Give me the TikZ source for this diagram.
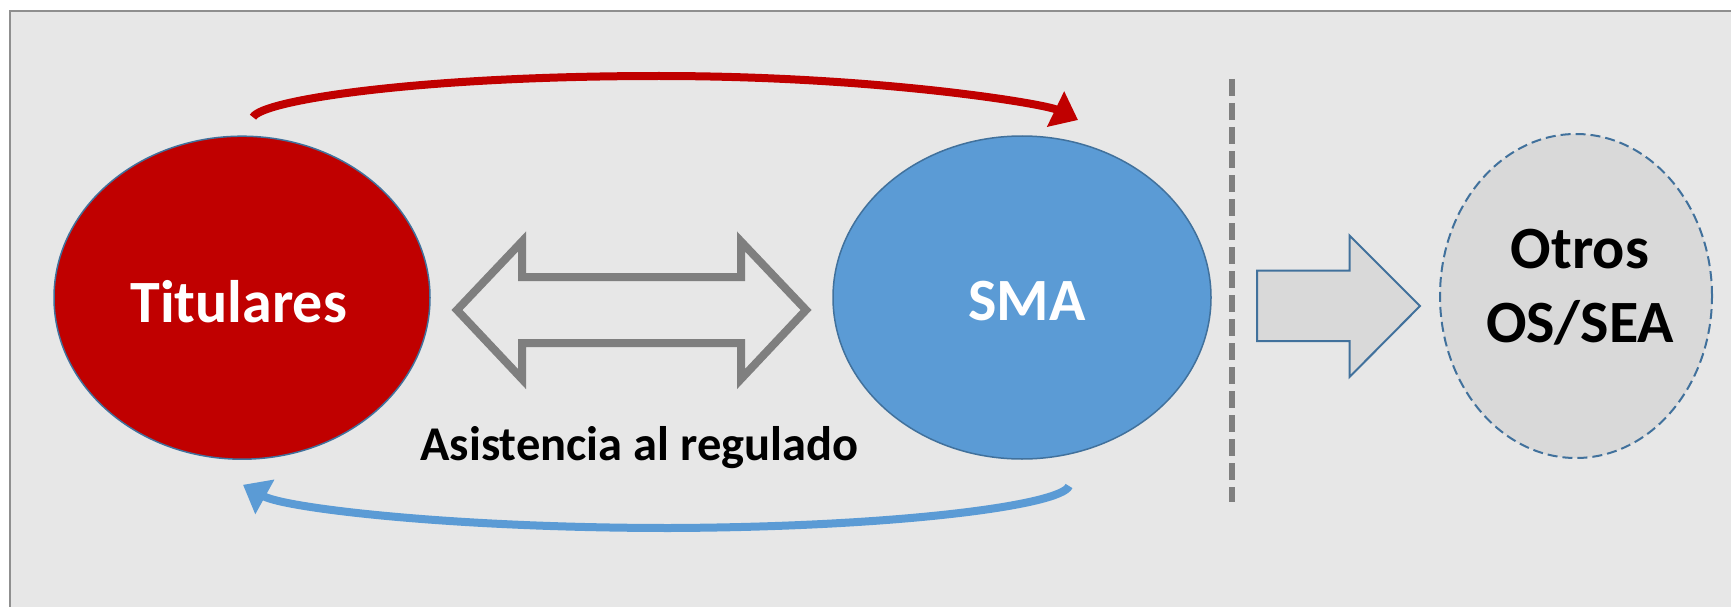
\documentclass[tikz,border=0pt]{standalone}
\usepackage{fontspec}
\setmainfont{Carlito}
\usetikzlibrary{arrows.meta,shapes.geometric,calc}
\definecolor{bgcol}{HTML}{E7E7E7}
\definecolor{framecol}{HTML}{8F8F8F}
\definecolor{titred}{HTML}{C00000}
\definecolor{smablue}{HTML}{5B9BD5}
\definecolor{edgeblue}{HTML}{41719C}
\definecolor{lightgrey}{HTML}{D9D9D9}
\definecolor{midgrey}{HTML}{7F7F7F}
\tikzset{
  ell/.style={ellipse, inner sep=0pt, outer sep=0pt},
  bigtxt/.style={font=\bfseries\fontsize{60}{73}\selectfont, inner sep=0pt, anchor=base},
  smalltxt/.style={font=\bfseries\fontsize{48.5}{58}\selectfont, inner sep=0pt, anchor=base},
  curvearrow/.style={line width=8pt, -{Triangle[length=25pt,width=38pt]}},
}
\begin{document}
\begin{tikzpicture}[x=1pt,y=-1pt]
\useasboundingbox (0,0) rectangle (1731,607);
\clip (0,0) rectangle (1731,607);
\fill[white] (0,0) rectangle (1731,607);
\draw[framecol, line width=1.6pt, fill=bgcol] (10,11) rectangle (1760,640);

% ellipses
\node[ell, draw=edgeblue, line width=1.5pt, fill=titred, minimum width=376pt, minimum height=323pt] (tit) at (242,297.7) {};
\node[ell, draw=edgeblue, line width=1.5pt, fill=smablue, minimum width=378pt, minimum height=323pt] (sma) at (1022,297.5) {};
\node[ell, draw=edgeblue, line width=2pt, fill=lightgrey, dash pattern=on 10pt off 5pt, minimum width=272pt, minimum height=324pt] (otros) at (1576,296) {};

% labels
\node[bigtxt, text=white] (titlbl) at (238.7,322.7) {Titulares};
\node[bigtxt, text=white] (smalbl) at (1027,320) {SMA};
\node[bigtxt] (otros1) at (1580,268.7) {Otros};
\node[bigtxt] (otros2) at (1580,342) {OS/SEA};
\node[smalltxt] (asist) at (639.5,460) {Asistencia al regulado};

% double arrow (outline)
\draw[midgrey, line width=8pt, miter limit=10]
  (457,310) -- (522,241.5) -- (522,277) -- (741,277) -- (741,241.5)
  -- (806,310) -- (741,379) -- (741,343) -- (522,343) -- (522,379) -- cycle;

% dashed separator
\coordinate (dtop) at (1232,79);
\coordinate (dbot) at (1232,502);
\draw[midgrey, line width=6pt, dash pattern=on 17pt off 7pt] (dtop) -- (dbot);

% right block arrow
\draw[edgeblue, line width=2pt, fill=lightgrey]
  (1257,270.5) -- (1349.5,270.5) -- (1349.5,235.5) -- (1420,306)
  -- (1349.5,377) -- (1349.5,341) -- (1257,341) -- cycle;

% curved connectors
\coordinate (rs) at ($(tit.north)+(11,-19)$);
\coordinate (re) at ($(sma.north)+(56,-16)$);
\draw[titred, curvearrow] (rs) .. controls (262,100) and (420,76) .. (659,76)
  .. controls (880,76) and (1045,104) .. (re);

\coordinate (bs) at ($(sma.south)+(47,27)$);
\coordinate (be) at ($(tit.south)+(1,25.6)$);
\draw[smablue, curvearrow] (bs) .. controls (1062,505) and (900,527) .. (670,528)
  .. controls (450,528) and (285,508) .. (be);
\end{tikzpicture}
\end{document}
